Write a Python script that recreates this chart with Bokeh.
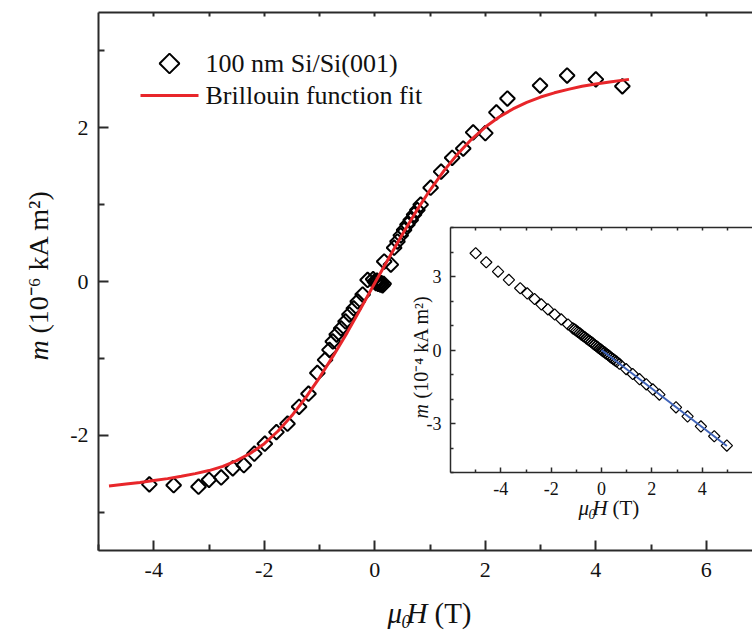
from math import pi
from bokeh.plotting import figure
from bokeh.models import (Range1d, LinearAxis, FixedTicker, Label, GridBox, CustomJSTickFormatter)
from bokeh.embed import file_html
from bokeh.resources import INLINE

# ---------------- data ----------------
field = [-4.08, -3.64, -3.19, -3.00, -2.78, -2.57, -2.37, -2.18, -1.99, -1.78, -1.58, -1.37, -1.20, -1.04, -0.90,
         -0.82, -0.76, -0.69, -0.61, -0.53, -0.46, -0.38, -0.31, -0.22, -0.13,
         -0.03, 0.00, 0.02, 0.04, 0.06, 0.08, 0.10, 0.12, 0.14, 0.16,
         0.17, 0.29, 0.35, 0.41, 0.47, 0.53, 0.59, 0.65, 0.71, 0.77, 0.83,
         1.01, 1.20, 1.40, 1.60, 1.78, 2.00, 2.20, 2.40, 2.99, 3.48, 4.00, 4.48]
moment = [-2.64, -2.65, -2.67, -2.58, -2.55, -2.43, -2.39, -2.24, -2.11, -1.96, -1.85, -1.63, -1.46, -1.19, -1.02,
          -0.89, -0.78, -0.69, -0.61, -0.52, -0.43, -0.35, -0.26, -0.17, 0.02,
          0.03, 0.00, -0.02, 0.01, -0.03, -0.01, -0.04, -0.02, -0.05, -0.03,
          0.26, 0.22, 0.44, 0.52, 0.60, 0.67, 0.74, 0.80, 0.87, 0.93, 1.00,
          1.22, 1.43, 1.61, 1.73, 1.94, 1.93, 2.20, 2.38, 2.55, 2.68, 2.63, 2.54]

fit_field = [-4.81, -4.5, -4.25, -4.0, -3.75, -3.5, -3.25, -3.0, -2.75, -2.5, -2.25, -2.0, -1.75, -1.5,
             -1.25, -1.0, -0.75, -0.5, -0.25, 0.0, 0.25, 0.5, 0.75, 1.0, 1.25, 1.5, 1.75, 2.0, 2.25,
             2.5, 2.75, 3.0, 3.25, 3.5, 3.75, 4.0, 4.25, 4.6]
fit_moment = [-2.66, -2.635, -2.615, -2.59, -2.565, -2.535, -2.50, -2.46, -2.405, -2.33, -2.235, -2.11, -1.945, -1.745,
              -1.51, -1.25, -0.965, -0.665, -0.345, -0.02, 0.30, 0.615, 0.915, 1.19, 1.44, 1.66, 1.85, 2.01, 2.14,
              2.245, 2.33, 2.40, 2.455, 2.50, 2.54, 2.57, 2.595, 2.63]

inset_field = [-5.00, -4.58, -4.11, -3.68, -3.23, -2.95, -2.66, -2.39, -2.13, -1.86, -1.60, -1.33, -1.14,
               -1.07, -1.00, -0.94, -0.87, -0.80, -0.74, -0.67, -0.60, -0.54, -0.47, -0.40, -0.34, -0.27,
               -0.20, -0.14, -0.07, -0.02, 0.02, 0.07, 0.14, 0.20, 0.27, 0.34, 0.40, 0.47, 0.54, 0.60,
               0.71, 0.98, 1.24, 1.51, 1.78, 2.04, 2.30, 2.96, 3.42, 3.95, 4.48, 4.98]
inset_moment = [3.95, 3.58, 3.20, 2.86, 2.52, 2.31, 2.08, 1.86, 1.66, 1.45, 1.25, 1.04, 0.88,
                0.84, 0.79, 0.74, 0.69, 0.63, 0.58, 0.53, 0.47, 0.43, 0.37, 0.32, 0.27, 0.21,
                0.16, 0.11, 0.05, 0.02, -0.02, -0.06, -0.11, -0.16, -0.21, -0.27, -0.32, -0.37, -0.43, -0.47,
                -0.56, -0.78, -0.98, -1.19, -1.40, -1.61, -1.82, -2.34, -2.71, -3.12, -3.52, -3.90]

inset_fit_field = [0.0, 4.98]
inset_fit_moment = [0.0, -3.92]

main_x_major = [-4, -2, 0, 2, 4, 6]
main_x_labels = ["-4", "-2", "0", "2", "4", "6"]
main_x_minor = [-5, -3, -1, 1, 3, 5]
main_y_major = [-2, 0, 2]
main_y_labels = ["-2", "0", "2"]
main_y_minor = [-3, -1, 1, 3]
main_top_ticks = [-4, -3, -2, -1, 0, 1, 2, 3, 4, 5, 6]

inset_x_major = [-4, -2, 0, 2, 4]
inset_x_labels = ["-4", "-2", "0", "2", "4"]
inset_x_minor = [-5, -3, -1, 1, 3, 5]
inset_y_major = [-3, 0, 3]
inset_y_labels = ["-3", "0", "3"]
inset_y_minor = [-5, -4, -2, -1, 1, 2, 4, 5]
inset_top_ticks = [-5, -4, -3, -2, -1, 0, 1, 2, 3, 4, 5]

legend_labels = ["100 nm Si/Si(001)", "Brillouin function fit"]

# ---------------- styling / layout constants ----------------
SERIF = "Liberation Serif"
AX = "#2a2a2a"
TXT = "#111111"
RED = "#e8262a"
BLUE = "#3f63b8"
W, H = 752, 633


def make_axis(major, minor, labels, font_size, standoff, lw, tin, tmin):
    ax = LinearAxis(ticker=FixedTicker(ticks=major, minor_ticks=minor))
    ax.axis_line_color = AX
    ax.axis_line_width = lw
    ax.major_tick_line_color = AX
    ax.minor_tick_line_color = AX
    ax.major_tick_line_width = lw
    ax.minor_tick_line_width = lw
    ax.major_tick_in = tin
    ax.major_tick_out = 0
    ax.minor_tick_in = tmin
    ax.minor_tick_out = 0
    ax.major_label_text_font = SERIF
    ax.major_label_text_color = TXT
    if labels is not None:
        ax.major_label_overrides = dict(zip(major, labels))
        ax.major_label_text_font_size = font_size
        ax.major_label_standoff = standoff
    else:
        ax.formatter = CustomJSTickFormatter(code="return ''")
        ax.major_label_text_font_size = "0px"
        ax.major_label_standoff = 0
    return ax


# ---------------- main figure ----------------
main = figure(width=W, height=H, x_range=Range1d(-5, 6.835), y_range=Range1d(-3.5, 3.5),
              output_backend="svg", toolbar_location=None,
              x_axis_location=None, y_axis_location=None,
              min_border_left=98, min_border_right=0, min_border_top=12, min_border_bottom=83)
main.outline_line_color = None
main.grid.visible = False
main.background_fill_color = "white"
main.border_fill_color = "white"

main.add_layout(make_axis(main_x_major, main_x_minor, main_x_labels, "22px", 12, 2, 10, 6), "below")
main.add_layout(make_axis(main_y_major, main_y_minor, main_y_labels, "22px", 10, 2, 10, 6), "left")
main.add_layout(make_axis(main_top_ticks, [], None, "0px", 0, 2, 4, 0), "above")

main.scatter(field, moment, marker="square", angle=pi / 4, size=10.5,
             fill_color=None, line_color="black", line_width=2)
main.line(fit_field, fit_moment, line_color=RED, line_width=3)

# ---------------- inset figure ----------------
INSET_LEFT, INSET_TOP, INSET_H = 410, 220, 280
inset = figure(width=W - INSET_LEFT, height=INSET_H, x_range=Range1d(-6, 6), y_range=Range1d(-5, 5),
               output_backend="svg", toolbar_location=None,
               x_axis_location=None, y_axis_location=None,
               min_border_left=40, min_border_right=0, min_border_top=7, min_border_bottom=28)
inset.outline_line_color = None
inset.grid.visible = False
inset.background_fill_color = "white"
inset.border_fill_color = None
inset.align = "start"

inset.add_layout(make_axis(inset_x_major, inset_x_minor, inset_x_labels, "18px", 9, 1.5, 5, 3), "below")
inset.add_layout(make_axis(inset_y_major, inset_y_minor, inset_y_labels, "18px", 9, 1.5, 5, 3), "left")
inset.add_layout(make_axis(inset_top_ticks, [], None, "0px", 0, 1.5, 3, 0), "above")

inset.scatter(inset_field, inset_moment, marker="square", angle=pi / 4, size=8,
              fill_color=None, line_color="black", line_width=1.2)
inset.line(inset_fit_field, inset_fit_moment, line_color=BLUE, line_width=2)

# ---------------- overlay: axis titles and legend (page pixel coordinates) ----------------
over = figure(width=W, height=H, x_range=Range1d(0, W), y_range=Range1d(H, 0),
              output_backend="svg", toolbar_location=None,
              x_axis_location=None, y_axis_location=None,
              min_border_left=0, min_border_right=0, min_border_top=0, min_border_bottom=0)
over.outline_line_color = None
over.grid.visible = False
over.background_fill_color = None
over.border_fill_color = None


def label(text, x, y, size, italic=False, angle=0.0):
    over.add_layout(Label(x=x, y=y, text=text, text_font=SERIF, text_font_size=size,
                          text_font_style="italic" if italic else "normal",
                          text_color=TXT, angle=angle,
                          text_align="left", text_baseline="middle"))


# legend
LEG_X, LEG_Y, LEG_W, LEG_DY = 140, 63, 58, 32
over.scatter([LEG_X + LEG_W / 2], [LEG_Y], marker="square", angle=pi / 4, size=14,
             fill_color=None, line_color="black", line_width=2)
over.line([LEG_X, LEG_X + LEG_W], [LEG_Y + LEG_DY, LEG_Y + LEG_DY], line_color=RED, line_width=3)
label(legend_labels[0], LEG_X + LEG_W + 7, LEG_Y, "26px")
label(legend_labels[1], LEG_X + LEG_W + 7, LEG_Y + LEG_DY, "26px")

# main x title: mu_0 H (T)
label("\u03bc", 387, 612, "29px", italic=True)
label("0", 401, 621, "18px", italic=True)
label("H", 406, 612, "29px", italic=True)
label("(T)", 434, 612, "29px")
# main y title: m (10^-6 kA m^2)
label("m", 38, 360, "28px", italic=True, angle=pi / 2)
label("(10\u207b\u2076 kA m\u00b2)", 38, 333, "28px", angle=pi / 2)

# inset x title
label("\u03bc", 578, 507, "21px", italic=True)
label("0", 588, 513, "14px", italic=True)
label("H", 592, 507, "21px", italic=True)
label("(T)", 612, 507, "21px")
# inset y title
label("m", 420, 418, "20px", italic=True, angle=pi / 2)
label("(10\u207b\u2074 kA m\u00b2)", 420, 398, "20px", angle=pi / 2)

# zero-size outer tracks keep the overlay's grid edges apart from the main plot's,
# so its frame is not aligned to (and shrunk like) the main frame
p = GridBox(children=[(main, 1, 1, 3, 2), (inset, 2, 2, 1, 1), (over, 0, 0, 5, 4)],
            rows=["0px", "%dpx" % INSET_TOP, "%dpx" % INSET_H, "%dpx" % (H - INSET_TOP - INSET_H), "0px"],
            cols=["0px", "%dpx" % INSET_LEFT, "%dpx" % (W - INSET_LEFT), "0px"])

open("out.html", "w").write(file_html(p, INLINE))
